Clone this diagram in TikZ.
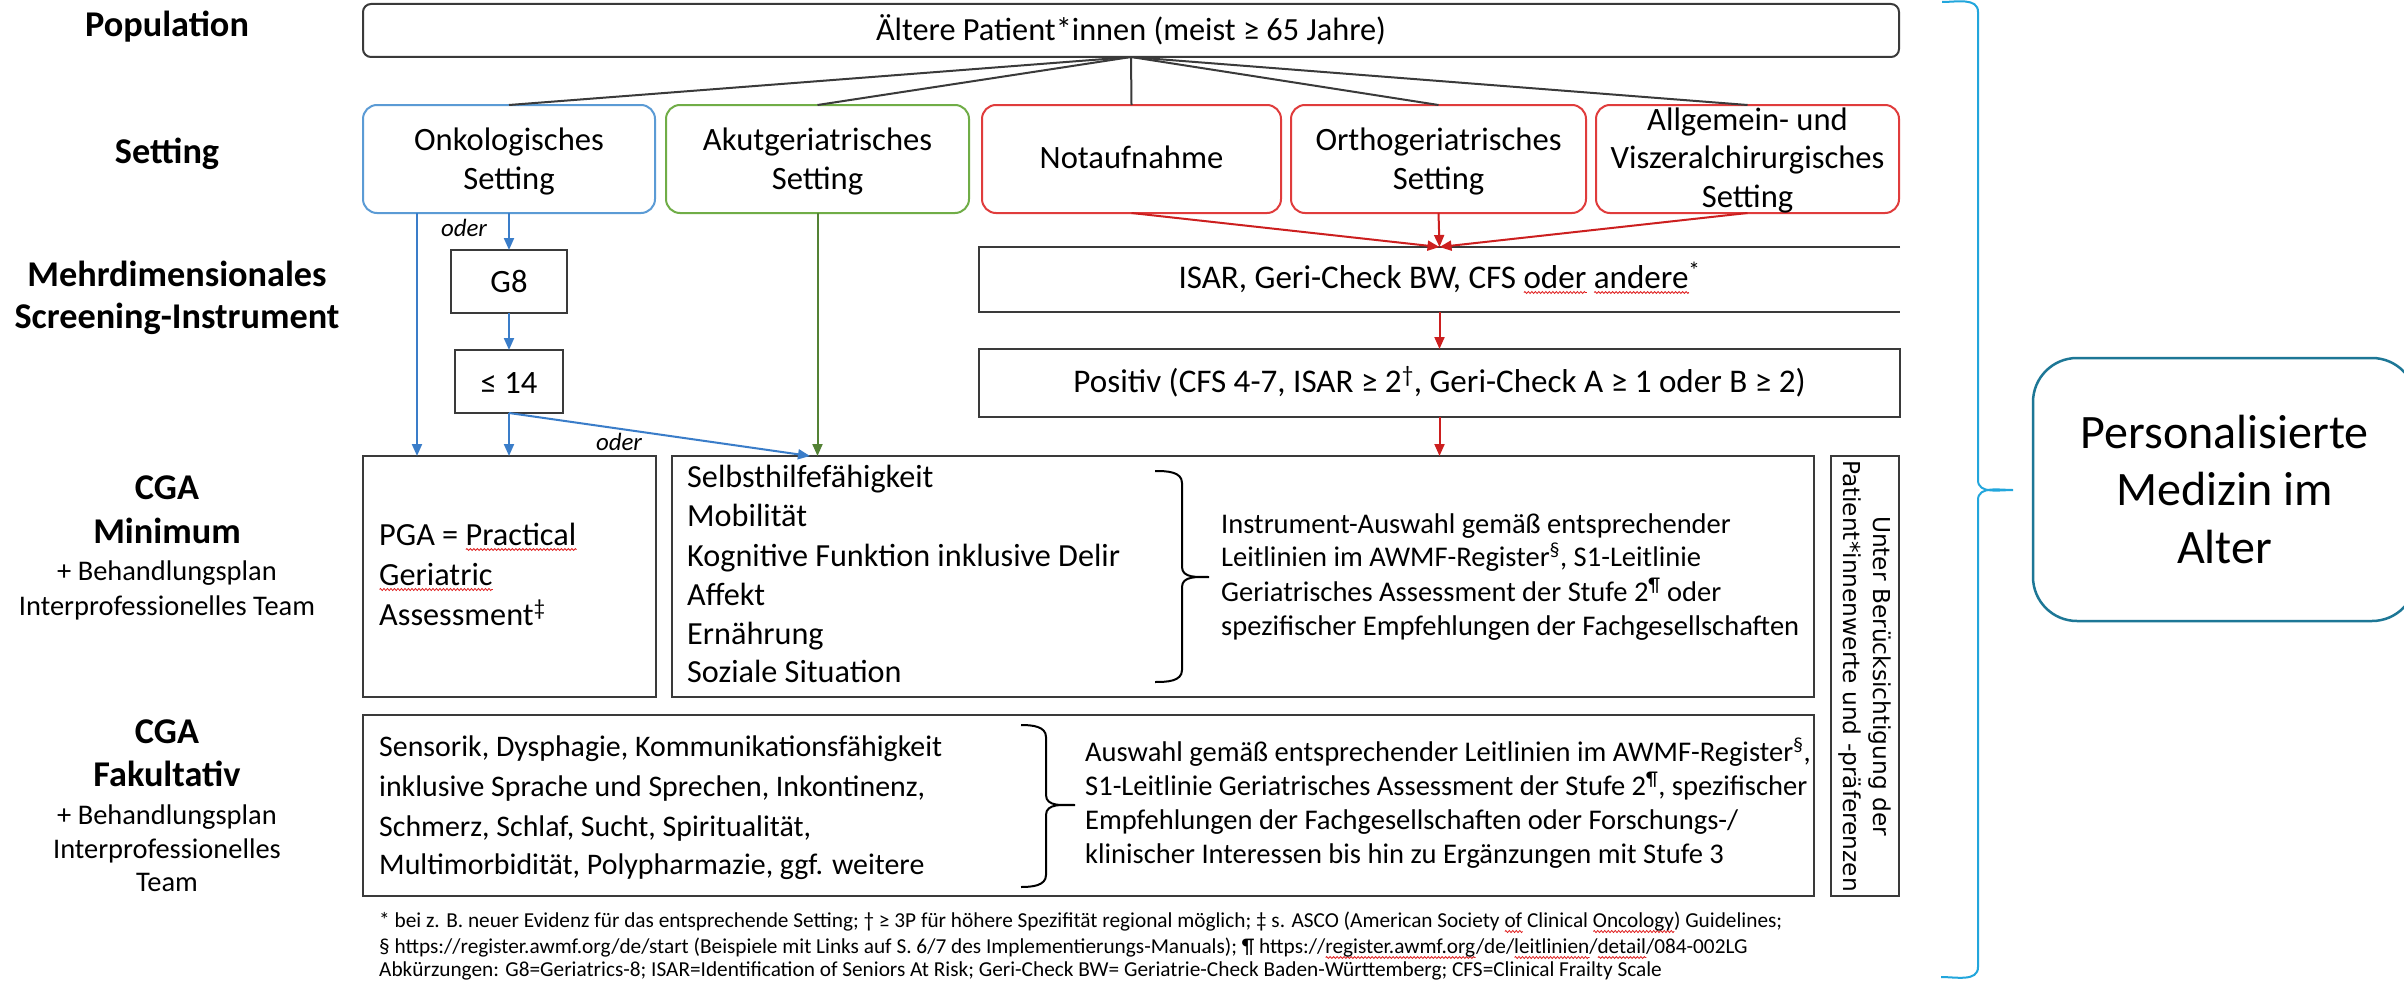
\documentclass[tikz,border=0pt]{standalone}
\usepackage{fontspec}
\setmainfont{Carlito}
\newfontfamily\vertfont{DejaVu Sans}
\usetikzlibrary{arrows.meta,calc,decorations.pathmorphing}

\definecolor{cline}{HTML}{3A3A3A}
\definecolor{cblue}{HTML}{5B9BD5}
\definecolor{cbluearr}{HTML}{3A7DC9}
\definecolor{cgreen}{HTML}{70AD47}
\definecolor{cgreenarr}{HTML}{548235}
\definecolor{cred}{HTML}{E03C3C}
\definecolor{credarr}{HTML}{CC1F1F}
\definecolor{ccyan}{HTML}{22A6DC}
\definecolor{cteal}{HTML}{1D7796}
\definecolor{sqred}{HTML}{E02020}

% wavy red underline (spell-check mark)
\newlength\sqlen
\newcommand\squig[1]{\settowidth\sqlen{#1}\leavevmode\rlap{\tikz[baseline=0pt,x=1pt,y=1pt]\draw[sqred,line width=0.8pt,decorate,decoration={zigzag,segment length=3.5pt,amplitude=1pt}] (0pt,-4.5pt) -- (\sqlen,-4.5pt);}#1}

% font size (pt) that makes a sample line exactly #2 pt wide
\newdimen\calw
\newcommand\calib[3]{%
  \pgfinterruptpicture
    \setbox0=\hbox{\normalfont\fontsize{100}{100}\selectfont #3}%
    \global\calw=\wd0
  \endpgfinterruptpicture
  \ifdim\calw<1pt \global\calw=1000pt\fi
  \pgfmathsetmacro#1{#2/\the\calw*100}}

\begin{document}
\begin{tikzpicture}[x=1pt,y=-1pt,
  box/.style={draw=cline,line width=2pt,inner sep=0pt,outer sep=0pt},
  sbox/.style={box,rounded corners=14pt,minimum height=108pt},
  lbl/.style={font=\fontsize{\fsLbl}{\fsLbl}\selectfont\bfseries,anchor=base,inner sep=0pt},
  sublbl/.style={font=\fontsize{\fsSub}{\fsSub}\selectfont,anchor=base,inner sep=0pt},
  poptxt/.style={font=\fontsize{\fsPop}{\fsPop}\selectfont,anchor=base,inner sep=0pt},
  settxt/.style={font=\fontsize{\fsSet}{\fsSet}\selectfont,anchor=base,inner sep=0pt},
  scrtxt/.style={font=\fontsize{\fsScr}{\fsScr}\selectfont,anchor=base,inner sep=0pt},
  pgatxt/.style={font=\fontsize{\fsPga}{\fsPga}\selectfont,anchor=base west,inner sep=0pt},
  listtxt/.style={font=\fontsize{\fsList}{\fsList}\selectfont,anchor=base west,inner sep=0pt},
  faktxt/.style={font=\fontsize{\fsFak}{\fsFak}\selectfont,anchor=base west,inner sep=0pt},
  notea/.style={font=\fontsize{\fsNa}{\fsNa}\selectfont,anchor=base west,inner sep=0pt},
  noteb/.style={font=\fontsize{\fsNb}{\fsNb}\selectfont,anchor=base west,inner sep=0pt},
  foot/.style={font=\fontsize{\fsFoot}{\fsFoot}\selectfont,anchor=base west,inner sep=0pt},
  perstxt/.style={font=\fontsize{\fsPers}{\fsPers}\selectfont,anchor=base,inner sep=0pt},
  oderlbl/.style={font=\fontsize{\fsOder}{\fsOder}\selectfont\itshape,inner sep=0pt},
  fan/.style={draw=cline,line width=2pt},
  tip/.style={-{Triangle[length=12pt,width=10pt]}},
  barr/.style={draw=cbluearr,line width=2pt,tip},
  garr/.style={draw=cgreenarr,line width=2pt,tip},
  rarr/.style={draw=credarr,line width=2pt,tip},
  bracepath/.style={draw=black,line width=2pt},
]
% text sizes, each set from the width of one line
\calib\fsLbl{325}{\bfseries Screening-Instrument}
\calib\fsSub{296}{Interprofessionelles Team}
\calib\fsPop{510}{Ältere Patient*innen (meist ≥ 65 Jahre)}
\calib\fsSet{246}{Orthogeriatrisches}
\calib\fsScr{510}{ISAR, Geri-Check BW, CFS oder andere}
\calib\fsPga{197}{PGA = Practical}
\calib\fsList{433}{Kognitive Funktion inklusive Delir}
\calib\fsFak{563}{Sensorik, Dysphagie, Kommunikationsfähigkeit}
\calib\fsNa{578}{spezifischer Empfehlungen der Fachgesellschaften}
\calib\fsNb{653}{Empfehlungen der Fachgesellschaften oder Forschungs-/}
\calib\fsFoot{1403}{* bei z. B. neuer Evidenz für das entsprechende Setting; † ≥ 3P für höhere Spezifität regional möglich; ‡ s. ASCO (American Society of Clinical Oncology) Guidelines;}
\calib\fsPers{288}{Personalisierte}
\calib\fsOder{46}{\itshape oder}
\calib\fsVert{432}{\vertfont Patient*innenwerte und -präferenzen}

\useasboundingbox (0,0) rectangle (2404,982);
\fill[white] (0,0) rectangle (2404,982);

% ---------- row labels ----------
\node[lbl] (lPop) at (167,37) {Population};
\node[lbl] (lSet) at (167,163) {Setting};
\node[lbl] (lMd1) at (177,286) {Mehrdimensionales};
\node[lbl] (lMd2) at (177,328) {Screening-Instrument};
\node[lbl] (lCga1) at (167,499) {CGA};
\node[lbl] (lMin) at (167,543) {Minimum};
\node[sublbl] (lBp1) at (167,580) {+ Behandlungsplan};
\node[sublbl] (lIt1) at (167,615) {Interprofessionelles Team};
\node[lbl] (lCga2) at (167,743) {CGA};
\node[lbl] (lFak) at (167,786) {Fakultativ};
\node[sublbl] (lBp2) at (167,824) {+ Behandlungsplan};
\node[sublbl] (lIt2) at (167,858) {Interprofessionelles};
\node[sublbl] (lTeam) at (167,891) {Team};

% ---------- population ----------
\node[box,rounded corners=8pt,minimum width=1536pt,minimum height=53pt] (pop) at (1131,30.5) {};
\node[poptxt] (popT) at (1131,41) {Ältere Patient*innen (meist ≥ 65 Jahre)};

% ---------- settings ----------
\node[sbox,draw=cblue,minimum width=292pt] (onk) at (509,159) {};
\node[sbox,draw=cgreen,minimum width=303pt] (akut) at (817.5,159) {};
\node[sbox,draw=cred,minimum width=299pt] (nota) at (1131.5,159) {};
\node[sbox,draw=cred,minimum width=295pt] (ortho) at (1438.5,159) {};
\node[sbox,draw=cred,minimum width=303pt] (allg) at (1747.5,159) {};

\node[settxt] (onkT1) at (509,150) {Onkologisches};
\node[settxt] (onkT2) at (509,189) {Setting};
\node[settxt] (akutT1) at (817.5,150) {Akutgeriatrisches};
\node[settxt] (akutT2) at (817.5,189) {Setting};
\node[settxt] (notaT) at (1131.5,168) {Notaufnahme};
\node[settxt] (orthoT1) at (1438.5,150) {Orthogeriatrisches};
\node[settxt] (orthoT2) at (1438.5,189) {Setting};
\node[settxt] (allgT1) at (1747.5,130) {Allgemein- und};
\node[settxt] (allgT2) at (1747.5,168) {Viszeralchirurgisches};
\node[settxt] (allgT3) at (1747.5,207) {Setting};

\foreach \s in {onk,akut,nota,ortho,allg}
  \draw[fan] (pop.south) -- (\s.north);

% ---------- screening ----------
\node[box,minimum width=116pt,minimum height=63pt] (g8) at (509,281.5) {};
\node[settxt] (g8T) at (509,292) {G8};
\node[box,minimum width=108pt,minimum height=63pt] (le14) at (509,381.5) {};
\node[settxt] (le14T) at (509,393) {≤ 14};

\node[inner sep=0pt,outer sep=0pt,minimum width=921pt,minimum height=65pt] (isar) at (1439.5,279.5) {};
\draw[box] (isar.north east) -- (isar.north west) -- (isar.south west) -- (isar.south east);
\node[scrtxt] (isarT) at (1439.5,288) {ISAR, Geri-Check BW, CFS \squig{oder} \squig{andere}\textsuperscript{*}};
\node[box,minimum width=921pt,minimum height=68pt] (pos) at (1439.5,383) {};
\node[scrtxt] (posT) at (1439.5,392) {Positiv (CFS 4-7, ISAR ≥ 2\textsuperscript{†}, Geri-Check A ≥ 1 oder B ≥ 2)};

% ---------- CGA minimum ----------
\node[box,minimum width=293pt,minimum height=241pt] (pga) at (509.5,576.5) {};
\node[pgatxt] (pgaT1) at (379,545) {PGA = \squig{Practical}};
\node[pgatxt] (pgaT2) at (379,585) {\squig{Geriatric}};
\node[pgatxt] (pgaT3) at (379,625) {Assessment\textsuperscript{‡}};

\node[box,minimum width=1142pt,minimum height=241pt] (selbst) at (1243,576.5) {};
\node[listtxt] (m1) at (687,487) {Selbsthilfefähigkeit};
\node[listtxt] (m2) at (687,526) {Mobilität};
\node[listtxt] (m3) at (687,566) {Kognitive Funktion inklusive Delir};
\node[listtxt] (m4) at (687,605) {Affekt};
\node[listtxt] (m5) at (687,644) {Ernährung};
\node[listtxt] (m6) at (687,682) {Soziale Situation};

\draw[bracepath] (1155,471) to[out=0,in=90] (1182,483) -- (1182,567)
  to[out=-90,in=180] (1209,577) to[out=180,in=90] (1182,587) -- (1182,670)
  to[out=-90,in=0] (1155,682);

\node[notea] (r1) at (1221,533) {Instrument-Auswahl gemäß entsprechender};
\node[notea] (r2) at (1221,566) {Leitlinien im AWMF-Register\textsuperscript{§}, S1-Leitlinie};
\node[notea] (r3) at (1221,601) {Geriatrisches Assessment der Stufe 2\textsuperscript{¶} oder};
\node[notea] (r4) at (1221,635) {spezifischer Empfehlungen der Fachgesellschaften};

% ---------- CGA fakultativ ----------
\node[box,minimum width=1451pt,minimum height=181pt] (fak) at (1088.5,805.5) {};
\node[faktxt] (f1) at (379,756) {Sensorik, Dysphagie, Kommunikationsfähigkeit};
\node[faktxt] (f2) at (379,796) {inklusive Sprache und Sprechen, Inkontinenz,};
\node[faktxt] (f3) at (379,836) {Schmerz, Schlaf, Sucht, Spiritualität,};
\node[faktxt] (f4) at (379,874) {Multimorbidität, Polypharmazie, ggf. weitere};

\draw[bracepath] (1021,725) to[out=0,in=90] (1046,737) -- (1046,795)
  to[out=-90,in=180] (1075,805) to[out=180,in=90] (1046,815) -- (1046,875)
  to[out=-90,in=0] (1021,887);

\node[noteb] (s1) at (1085,761) {Auswahl gemäß entsprechender Leitlinien im AWMF-Register\textsuperscript{§},};
\node[noteb] (s2) at (1085,795) {S1-Leitlinie Geriatrisches Assessment der Stufe 2\textsuperscript{¶}, spezifischer};
\node[noteb] (s3) at (1085,829) {Empfehlungen der Fachgesellschaften oder Forschungs-/};
\node[noteb] (s4) at (1085,863) {klinischer Interessen bis hin zu Ergänzungen mit Stufe 3};

% ---------- patient preferences ----------
\node[box,minimum width=68pt,minimum height=440pt] (vert) at (1865,676) {};
\node[rotate=-90,align=center,inner sep=0pt,font=\vertfont\fontsize{\fsVert}{30}\selectfont] (vertT) at (vert.center)
  {Unter Berücksichtigung der\\Patient*innenwerte und -präferenzen};

% ---------- connectors ----------
\draw[barr] ([xshift=-92pt]onk.south) -- ([xshift=-92pt]onk.south |- pga.north);
\draw[barr] (onk.south) -- (g8.north);
\draw[barr] (g8.south) -- (le14.north);
\draw[barr] (le14.south) -- (le14.south |- pga.north);
\draw[barr] (le14.south) -- ([xshift=138pt]selbst.north west);
\draw[garr] (akut.south) -- (akut.south |- selbst.north);
\draw[rarr] (nota.south) -- (isar.north);
\draw[rarr] (ortho.south) -- (isar.north);
\draw[rarr] (allg.south) -- (isar.north);
\draw[rarr] (isar.south) -- (pos.north);
\draw[rarr] (pos.south) -- (pos.south |- selbst.north);

\node[oderlbl] (oder1) at (464,228) {oder};
\node[oderlbl] (oder2) at (619,442) {oder};

% ---------- footnotes ----------
\node[foot] (fn1) at (379,927) {* bei z. B. neuer Evidenz für das entsprechende Setting; † ≥ 3P für höhere Spezifität regional möglich; ‡ s. ASCO (American Society \squig{of} Clinical \squig{Oncology}) Guidelines;};
\node[foot] (fn2) at (379,953) {§ https://register.awmf.org/de/start (Beispiele mit Links auf S. 6/7 des Implementierungs-Manuals); ¶ https://\squig{register.awmf.org}/de/\squig{leitlinien}/\squig{detail}/084-002LG};
\node[foot] (fn3) at (379,976) {Abkürzungen: G8=Geriatrics-8; ISAR=Identification of Seniors At Risk; Geri-Check BW= Geriatrie-Check Baden-Württemberg; CFS=Clinical Frailty Scale};

% ---------- overall brace and result ----------
\draw[draw=ccyan,line width=2pt] (1942,2) to[out=0,in=90] (1978,12) -- (1978,480)
  to[out=-90,in=180] (2013,490) to[out=180,in=90] (1978,500) -- (1978,967)
  to[out=-90,in=0] (1941,977);

\node[draw=cteal,line width=2.5pt,rounded corners=44pt,inner sep=0pt,outer sep=0pt,
      minimum width=383pt,minimum height=263pt] (pers) at (2224.5,489.5) {};
\node[perstxt] (persT1) at (2224.5,448) {Personalisierte};
\node[perstxt] (persT2) at (2224.5,505) {Medizin im};
\node[perstxt] (persT3) at (2224.5,563) {Alter};
\end{tikzpicture}
\end{document}
